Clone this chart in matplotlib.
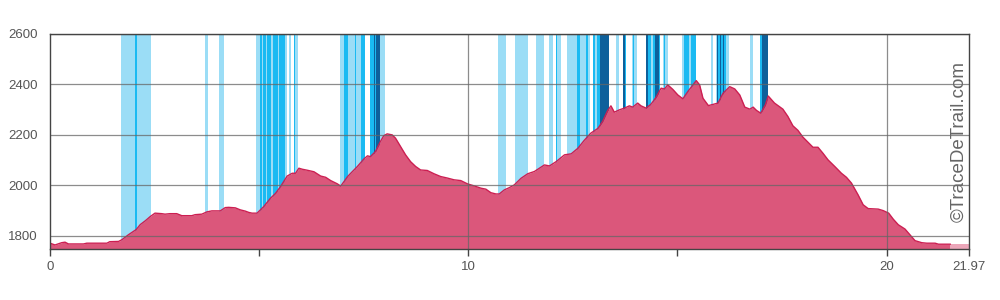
import matplotlib
matplotlib.use("Agg")
import matplotlib.pyplot as plt

plt.rcParams['font.family'] = ['Liberation Sans', 'DejaVu Sans']

# Elevation profile (km, m)
km = [0.00, 0.12, 0.28, 0.36, 0.44, 0.80, 0.88, 1.36, 1.43, 1.64, 1.72, 1.88, 2.06, 2.16,
      2.28, 2.40, 2.51, 2.67, 2.75, 2.87, 3.03, 3.15, 3.39, 3.47, 3.63, 3.75, 3.87, 4.07,
      4.19, 4.27, 4.43, 4.55, 4.67, 4.75, 4.83, 4.95, 5.11, 5.27, 5.39, 5.51, 5.67, 5.79,
      5.87, 5.95, 6.03, 6.15, 6.31, 6.47, 6.59, 6.71, 6.87, 6.95, 7.11, 7.19, 7.35, 7.50,
      7.59, 7.66, 7.78, 7.90, 7.98, 8.06, 8.18, 8.26, 8.38, 8.50, 8.62, 8.74, 8.86, 9.02,
      9.18, 9.34, 9.50, 9.66, 9.82, 9.98, 10.14, 10.30, 10.42, 10.54, 10.66, 10.74, 10.86,
      10.98, 11.10, 11.26, 11.42, 11.58, 11.82, 11.94, 12.10, 12.30, 12.46, 12.62, 12.77,
      12.93, 13.10, 13.21, 13.33, 13.41, 13.49, 13.61, 13.73, 13.85, 13.93, 14.05, 14.13,
      14.25, 14.37, 14.49, 14.61, 14.69, 14.77, 14.89, 15.01, 15.13, 15.25, 15.37, 15.45,
      15.53, 15.61, 15.74, 15.85, 15.97, 16.09, 16.25, 16.37, 16.49, 16.61, 16.73, 16.81,
      16.89, 16.99, 17.10, 17.17, 17.25, 17.32, 17.52, 17.64, 17.76, 17.88, 18.00, 18.12,
      18.24, 18.36, 18.48, 18.60, 18.76, 18.92, 19.04, 19.16, 19.32, 19.44, 19.56, 19.80,
      19.92, 20.05, 20.16, 20.28, 20.44, 20.56, 20.68, 20.84, 20.96, 21.16, 21.24, 21.52]
elev = [1771, 1764, 1773, 1775, 1768, 1768, 1771, 1771, 1777, 1778, 1785, 1805, 1825, 1845,
        1860, 1877, 1890, 1888, 1886, 1888, 1888, 1880, 1880, 1884, 1886, 1895, 1899, 1899,
        1912, 1913, 1911, 1903, 1898, 1893, 1890, 1890, 1916, 1949, 1968, 1995, 2037, 2048,
        2048, 2068, 2064, 2060, 2054, 2037, 2032, 2019, 2006, 1997, 2034, 2048, 2075, 2104,
        2117, 2114, 2134, 2174, 2197, 2204, 2200, 2187, 2154, 2121, 2094, 2075, 2061, 2059,
        2046, 2035, 2029, 2022, 2019, 2006, 1998, 1989, 1985, 1971, 1966, 1966, 1982,
        1991, 2002, 2028, 2046, 2055, 2081, 2077, 2094, 2121, 2125, 2147, 2178,
        2207, 2226, 2253, 2296, 2315, 2290, 2299, 2306, 2315, 2310, 2326, 2315,
        2306, 2322, 2349, 2385, 2382, 2398, 2380, 2358, 2343, 2372, 2398, 2415,
        2398, 2345, 2316, 2321, 2326, 2365, 2391, 2382, 2358, 2310, 2302, 2310,
        2297, 2286, 2318, 2354, 2339, 2326, 2302, 2273, 2236, 2218, 2191, 2171,
        2151, 2151, 2127, 2101, 2075, 2048, 2032, 2009, 1962, 1923, 1908, 1906,
        1900, 1890, 1866, 1844, 1827, 1804, 1781, 1773, 1771, 1771, 1767, 1767]

# Trailing segment (lighter)
tail_km = [21.52, 21.97]
tail_elev = [1767, 1767]

# Stripes: start km, end km, level (0 light, 1 medium, 2 dark)
stripe_start = [1.70, 2.03, 2.08, 3.71, 4.05, 4.93, 5.03, 5.07, 5.10, 5.17, 5.19, 5.29, 5.34,
                5.46, 5.48, 5.62, 5.72, 5.84, 5.86, 6.94, 7.04, 7.13, 7.30, 7.32, 7.44, 7.66,
                7.75, 7.78, 7.80, 7.90, 10.70, 10.79, 11.11, 11.61, 11.94, 12.09, 12.11, 12.37,
                12.59, 12.66, 12.81, 12.85, 12.97, 13.02, 13.07, 13.16, 13.26, 13.28, 13.52,
                13.69, 13.74, 13.91, 13.93, 13.95, 14.24, 14.26, 14.29, 14.36, 14.41, 14.46,
                14.55, 14.65, 14.67, 14.70, 15.10, 15.15, 15.27, 15.32, 15.80, 15.92, 15.94,
                15.96, 16.01, 16.04, 16.08, 16.11, 16.16, 16.73, 16.97, 17.02]
stripe_end = [2.03, 2.08, 2.42, 3.78, 4.16, 5.03, 5.07, 5.10, 5.17, 5.19, 5.29, 5.34, 5.46,
              5.48, 5.62, 5.67, 5.77, 5.86, 5.94, 7.04, 7.13, 7.30, 7.32, 7.44, 7.54, 7.75,
              7.78, 7.80, 7.90, 8.02, 10.77, 10.91, 11.42, 11.82, 12.02, 12.11, 12.21, 12.59,
              12.66, 12.81, 12.85, 12.90, 13.02, 13.07, 13.16, 13.26, 13.28, 13.36, 13.60,
              13.74, 13.76, 13.93, 13.95, 14.03, 14.26, 14.29, 14.36, 14.41, 14.46, 14.55,
              14.58, 14.67, 14.70, 14.77, 15.15, 15.27, 15.32, 15.44, 15.84, 15.94, 15.96,
              16.01, 16.04, 16.08, 16.11, 16.16, 16.23, 16.80, 17.02, 17.16]
stripe_level = [0, 1, 0, 0, 0, 0, 1, 0, 1, 0, 1, 0, 1,
                0, 1, 0, 0, 1, 0, 0, 1, 0, 1, 0, 1, 1,
                2, 1, 2, 0, 0, 0, 0, 0, 0, 1, 0, 0,
                1, 0, 1, 0, 1, 0, 1, 2, 1, 2, 0,
                2, 1, 0, 1, 0, 1, 2, 1, 0, 1, 2,
                1, 0, 1, 0, 0, 1, 0, 1, 0, 0, 2,
                1, 2, 1, 2, 1, 0, 0, 1, 2]

x_ticks = [0, 5, 10, 15, 20, 21.97]
x_labels = ['0', '', '10', '', '20', '21.97']
y_ticks = [1800, 2000, 2200, 2400, 2600]

stripe_colors = ['#9BDDF6', '#1ABAF2', '#0E609B']

fig = plt.figure(figsize=(10, 3), dpi=100)
ax = fig.add_axes([0.05, 0.17, 0.919, 0.717])
ax.set_xlim(0, 21.97)
ax.set_ylim(1748, 2600)

for s, e, lv in zip(stripe_start, stripe_end, stripe_level):
    ax.axvspan(s, e, color=stripe_colors[lv], lw=0, zorder=1)

ax.fill_between(km, elev, 1748, color='#DB577B', lw=0, zorder=2)
ax.plot(km, elev, color='#CC1F52', lw=1.0, zorder=3)
ax.fill_between(tail_km, tail_elev, 1748, color='#EBA6B9', lw=0, zorder=2)

for y in y_ticks:
    ax.axhline(y, color='#666666', lw=0.9, alpha=0.75, zorder=4)
for x in [10, 20]:
    ax.axvline(x, color='#666666', lw=0.9, alpha=0.75, zorder=4)

ax.set_xticks(x_ticks)
ax.set_xticklabels(x_labels)
ax.set_yticks(y_ticks)
ax.tick_params(axis='x', length=5, width=1, color='#444444', labelsize=9.5,
               labelcolor='#555555', pad=4)
ax.tick_params(axis='y', length=0, labelsize=9.5, labelcolor='#555555', pad=9)
for sp in ax.spines.values():
    sp.set_color('#444444')
    sp.set_linewidth(1)
    sp.set_zorder(5)

fig.text(0.959, 0.527, '©TraceDeTrail.com', rotation=90, ha='center', va='center',
         fontsize=13.5, color='#666666')

fig.savefig('out.png', dpi=100)
